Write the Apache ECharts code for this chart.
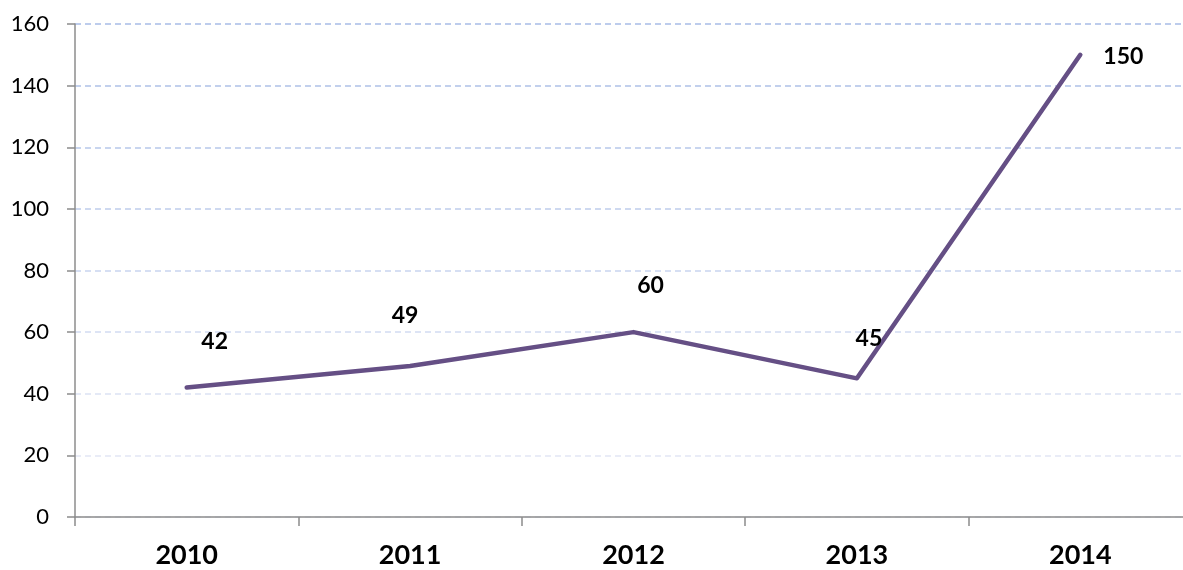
<!DOCTYPE html>
<html>
<head>
<meta charset="utf-8">
<script src="https://cdn.jsdelivr.net/npm/echarts@6/dist/echarts.min.js"></script>
<style>
html,body{margin:0;padding:0;background:#fff;overflow:hidden;width:1183px;height:570px;}
#chart{width:1192px;height:570px;}
</style>
</head>
<body>
<div id="chart"></div>
<script>
var categories = ['2010', '2011', '2012', '2013', '2014'];
var values = [42, 49, 60, 45, 150];
var yTicks = [0, 20, 40, 60, 80, 100, 120, 140, 160];
var labelOffsets = [[28, -46], [-5, -50], [17, -47], [12, -40], [43, 2]];

var chart = echarts.init(document.getElementById('chart'));
var gridColors = ['#e4e8f6', '#e2e6f5', '#dbe2f3', '#d2dcf2', '#c9d5ef', '#bfcdeb', '#b6c7ea', '#aec1e8', '#a8bce6'];

var seriesData = values.map(function (v, i) {
  return {
    value: v,
    label: { offset: labelOffsets[i] }
  };
});

chart.setOption({
  animation: false,
  backgroundColor: '#ffffff',
  grid: { left: 75, top: 24, right: 0, bottom: 53, containLabel: false },
  xAxis: {
    type: 'category',
    data: categories,
    boundaryGap: true,
    axisLine: { lineStyle: { color: '#8c8c8c', width: 1.5 } },
    axisTick: { show: true, length: 9, inside: false, lineStyle: { color: '#8c8c8c', width: 1.5 } },
    axisLabel: { fontFamily: 'Lato', fontWeight: 'bold', fontSize: 27, color: '#000', margin: 25 },
    splitLine: { show: false }
  },
  yAxis: {
    type: 'value',
    min: yTicks[0],
    max: yTicks[yTicks.length - 1],
    interval: 20,
    axisLine: { show: true, lineStyle: { color: '#8c8c8c', width: 1.5 } },
    axisTick: { show: true, length: 8, lineStyle: { color: '#8c8c8c', width: 1.5 } },
    axisLabel: { fontFamily: 'Lato', fontSize: 22, color: '#000', margin: 26 },
    splitLine: { show: true, lineStyle: { type: [6, 4], width: 1.5, color: gridColors } }
  },
  series: [{
    type: 'line',
    data: seriesData,
    symbol: 'circle',
    symbolSize: 1,
    showSymbol: true,
    itemStyle: { color: '#654f85' },
    lineStyle: { color: '#654f85', width: 4.5, cap: 'round', join: 'round' },
    label: {
      show: true,
      position: 'inside',
      fontFamily: 'Lato',
      fontWeight: 'bold',
      fontSize: 23,
      color: '#000'
    }
  }]
});
</script>
</body>
</html>
